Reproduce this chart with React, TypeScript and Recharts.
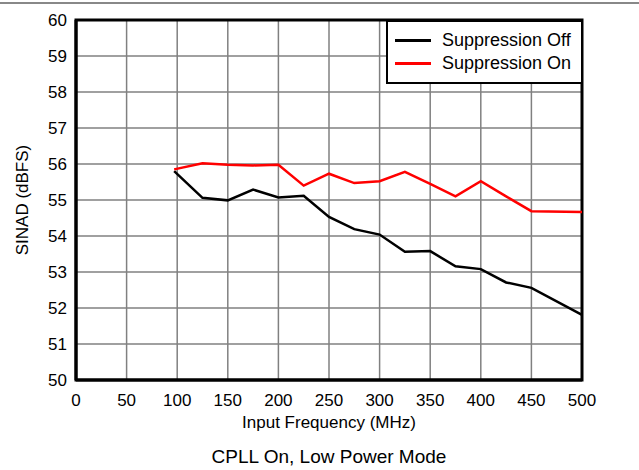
import { LineChart, Line, XAxis, YAxis, CartesianGrid, Legend, ReferenceArea } from 'recharts';

const freqs = [97, 125, 150, 175, 200, 225, 250, 275, 300, 325, 350, 375, 400, 425, 450, 500];
const suppressionOff = [55.8, 55.06, 54.99, 55.29, 55.07, 55.12, 54.53, 54.19, 54.04, 53.56, 53.58, 53.16, 53.08, 52.71, 52.56, 51.81];
const suppressionOn = [55.85, 56.02, 55.98, 55.96, 55.98, 55.4, 55.73, 55.47, 55.52, 55.78, 55.45, 55.1, 55.52, 55.1, 54.69, 54.67];
const xTicks = [0, 50, 100, 150, 200, 250, 300, 350, 400, 450, 500];
const yTicks = [50, 51, 52, 53, 54, 55, 56, 57, 58, 59, 60];

const data = freqs.map((f, i) => ({ f, off: suppressionOff[i], on: suppressionOn[i] }));

const font = '"Liberation Sans", Arial, sans-serif';

function LegendBox({ payload }: any) {
  return (
    <div
      style={{
        background: '#fff',
        border: '2px solid #000',
        width: 197,
        height: 64,
        boxSizing: 'border-box',
        padding: '7px 0 0 7px',
        fontFamily: font,
        fontSize: 18,
        color: '#000',
        textAlign: 'left',
      }}
    >
      {(payload || []).map((p: any) => (
        <div key={p.value} style={{ display: 'flex', alignItems: 'center', height: 23 }}>
          <span style={{ display: 'inline-block', width: 36, height: 3, background: p.color, marginRight: 11 }} />
          {p.value}
        </div>
      ))}
    </div>
  );
}

export default function App() {
  return (
    <div style={{ position: 'absolute', left: 0, top: 0, width: 639, height: 470, background: '#fff', fontFamily: font }}>
      <div style={{ position: 'absolute', left: 0, top: 2, width: 639, borderTop: '2px solid #888' }} />
      <LineChart width={639} height={442} data={data} margin={{ top: 20, right: 57, left: 16, bottom: 10 }}>
        <CartesianGrid stroke="#808080" strokeWidth={1.5} horizontalValues={yTicks} verticalValues={xTicks} />
        <XAxis
          dataKey="f"
          type="number"
          domain={[0, 500]}
          ticks={xTicks}
          tickLine={false}
          tickSize={0}
          tickMargin={14}
          axisLine={{ stroke: '#000', strokeWidth: 3 }}
          tick={{ fill: '#000', fontSize: 17, fontFamily: font }}
          height={52}
          label={{ value: 'Input Frequency (MHz)', position: 'insideBottom', offset: 4, fill: '#000', fontSize: 17, fontFamily: font }}
        />
        <YAxis
          type="number"
          domain={[50, 60]}
          ticks={yTicks}
          tickLine={false}
          tickSize={0}
          tickMargin={9}
          axisLine={{ stroke: '#000', strokeWidth: 3 }}
          tick={{ fill: '#000', fontSize: 17, fontFamily: font }}
          width={60}
          label={{ value: 'SINAD (dBFS)', angle: -90, position: 'insideLeft', offset: 0, dx: 6, style: { textAnchor: 'middle' }, fill: '#000', fontSize: 17, fontFamily: font }}
        />
        <ReferenceArea x1={0} x2={500} y1={50} y2={60} fill="none" stroke="#000" strokeWidth={3} ifOverflow="visible" />
        <Legend
          layout="horizontal"
          verticalAlign="middle"
          align="center"
          content={LegendBox}
          wrapperStyle={{ position: 'absolute', left: 386, top: 20, width: 197 }}
        />
        <Line type="linear" dataKey="off" name="Suppression Off" stroke="#000" strokeWidth={2.5} dot={false} isAnimationActive={false} />
        <Line type="linear" dataKey="on" name="Suppression On" stroke="#ff0000" strokeWidth={2.5} dot={false} isAnimationActive={false} />
      </LineChart>
      <div style={{ position: 'absolute', left: 76, width: 506, top: 446, textAlign: 'center', fontSize: 19, color: '#000' }}>
        CPLL On, Low Power Mode
      </div>
    </div>
  );
}
